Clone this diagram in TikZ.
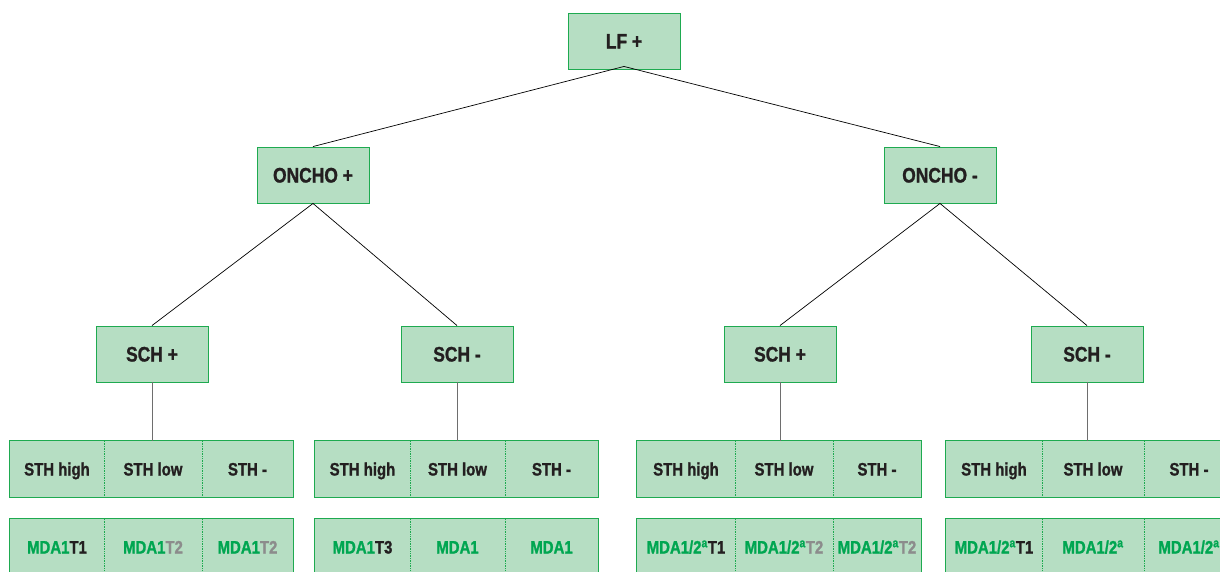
\documentclass[tikz,border=0pt]{standalone}
\usepackage{fontspec}
\setmainfont{Liberation Sans}[FakeStretch=0.83, BoldFeatures={FakeBold=1.2}]
\definecolor{boxfill}{RGB}{182,222,195}
\definecolor{boxline}{RGB}{30,170,80}
\definecolor{mdagreen}{RGB}{0,166,81}
\definecolor{ink}{RGB}{35,31,32}
\definecolor{greyT}{RGB}{140,140,140}
\definecolor{stem}{RGB}{110,110,110}
\newcommand{\ord}{\textsuperscript{a}}
\newcommand{\g}[1]{\textcolor{mdagreen}{#1}}
\newcommand{\gr}[1]{\textcolor{greyT}{#1}}
\tikzset{
  bigbox/.style={draw=boxline, fill=boxfill, line width=0.9pt,
    minimum width=112pt, minimum height=56pt, inner sep=0pt,
    text height=15pt, text depth=0pt,
    font=\fontsize{21}{21}\selectfont\bfseries, text=ink},
  cell/.style={fill=boxfill, inner sep=0pt, minimum height=56pt,
    text height=13pt, text depth=0pt,
    font=\fontsize{18}{18}\selectfont\bfseries, text=ink},
  frame/.style={draw=boxline, line width=0.9pt},
  divider/.style={draw=boxline, line width=0.7pt, densely dotted},
  link/.style={draw=black, line width=0.7pt},
  drop/.style={draw=stem, line width=1pt}
}
\begin{document}
\begin{tikzpicture}[x=1pt,y=-1pt]
\useasboundingbox (0,0) rectangle (1220,571);
\clip (0,0) rectangle (1220,571);

% upper levels of the tree
\node[bigbox] (lf) at (624,41) {LF +};
\node[bigbox] (onp) at (313,175) {ONCHO +};
\node[bigbox] (onm) at (940,175) {ONCHO -};
\node[bigbox] (s1) at (152,354) {SCH +};
\node[bigbox] (s2) at (457,354) {SCH -};
\node[bigbox] (s3) at (780,354) {SCH +};
\node[bigbox] (s4) at (1087,354) {SCH -};

% STH rows
\node[cell, minimum width=94pt] (a1) at (57,469) {STH high};
\node[cell, minimum width=98pt] (a2) at (153,469) {STH low};
\node[cell, minimum width=91pt] (a3) at (247.5,469) {STH -};
\node[cell, minimum width=95pt] (b1) at (362.5,469) {STH high};
\node[cell, minimum width=95pt] (b2) at (457.5,469) {STH low};
\node[cell, minimum width=93pt] (b3) at (551.5,469) {STH -};
\node[cell, minimum width=98pt] (c1) at (686,469) {STH high};
\node[cell, minimum width=98pt] (c2) at (784,469) {STH low};
\node[cell, minimum width=88pt] (c3) at (877,469) {STH -};
\node[cell, minimum width=96pt] (d1) at (994,469) {STH high};
\node[cell, minimum width=102pt] (d2) at (1093,469) {STH low};
\node[cell, minimum width=90pt] (d3) at (1189,469) {STH -};

% MDA rows
\node[cell, minimum width=94pt] (m1) at (57,547) {\g{MDA1}T1};
\node[cell, minimum width=98pt] (m2) at (153,547) {\g{MDA1}\gr{T2}};
\node[cell, minimum width=91pt] (m3) at (247.5,547) {\g{MDA1}\gr{T2}};
\node[cell, minimum width=95pt] (n1) at (362.5,547) {\g{MDA1}T3};
\node[cell, minimum width=95pt] (n2) at (457.5,547) {\g{MDA1}};
\node[cell, minimum width=93pt] (n3) at (551.5,547) {\g{MDA1}};
\node[cell, minimum width=98pt] (p1) at (686,547) {\g{MDA1/2\ord}T1};
\node[cell, minimum width=98pt] (p2) at (784,547) {\g{MDA1/2\ord}\gr{T2}};
\node[cell, minimum width=88pt] (p3) at (877,547) {\g{MDA1/2\ord}\gr{T2}};
\node[cell, minimum width=96pt] (q1) at (994,547) {\g{MDA1/2\ord}T1};
\node[cell, minimum width=102pt] (q2) at (1093,547) {\g{MDA1/2\ord}};
\node[cell, minimum width=90pt] (q3) at (1189,547) {\g{MDA1/2\ord}};

% row frames and dotted cell dividers
\foreach \l/\m/\r in {a1/a2/a3,b1/b2/b3,c1/c2/c3,d1/d2/d3,m1/m2/m3,n1/n2/n3,p1/p2/p3,q1/q2/q3}{
  \draw[frame] (\l.north west) rectangle (\r.south east);
  \draw[divider] (\l.north east) -- (\l.south east);
  \draw[divider] (\m.north east) -- (\m.south east);
}

% connectors
\draw[link] ([yshift=3pt]lf.south) -- (onp.north);
\draw[link] ([yshift=3pt]lf.south) -- (onm.north);
\draw[link] (onp.south) -- (s1.north);
\draw[link] (onp.south) -- (s2.north);
\draw[link] (onm.south) -- (s3.north);
\draw[link] (onm.south) -- (s4.north);
\draw[drop] (s1.south) -- (s1.south |- a2.north);
\draw[drop] (s2.south) -- (s2.south |- b2.north);
\draw[drop] (s3.south) -- (s3.south |- c2.north);
\draw[drop] (s4.south) -- (s4.south |- d2.north);
\end{tikzpicture}
\end{document}
